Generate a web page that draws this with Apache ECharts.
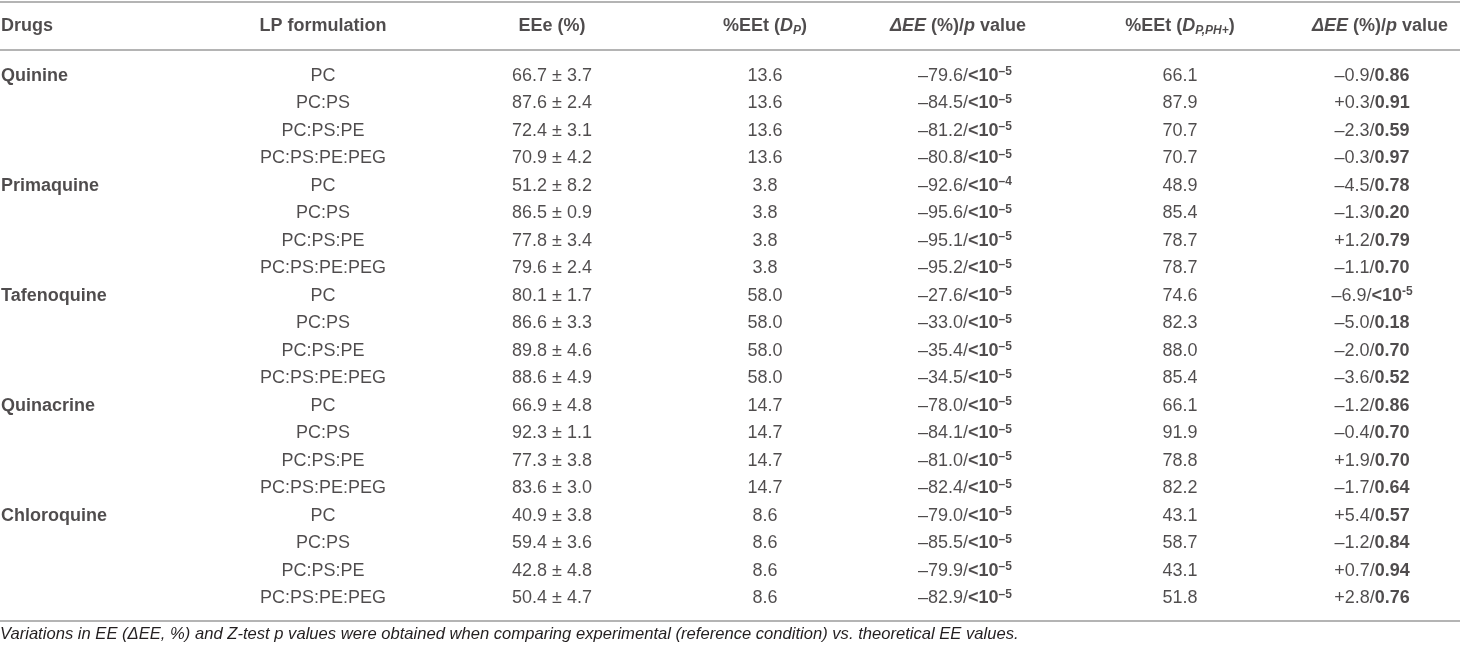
<!DOCTYPE html>
<html>
<head>
<meta charset="utf-8">
<script src="https://cdn.jsdelivr.net/npm/echarts@6/dist/echarts.min.js"></script>
<style>
  html, body { margin: 0; padding: 0; background: #fff; }
  #main { width: 1460px; height: 651px; }
</style>
</head>
<body>
<div id="main"></div>
<script>
// table data
const drugs = ['Quinine', 'Primaquine', 'Tafenoquine', 'Quinacrine', 'Chloroquine'];
const formulations = ['PC', 'PC:PS', 'PC:PS:PE', 'PC:PS:PE:PEG'];
const eeMean = [66.7, 87.6, 72.4, 70.9, 51.2, 86.5, 77.8, 79.6, 80.1, 86.6, 89.8, 88.6, 66.9, 92.3, 77.3, 83.6, 40.9, 59.4, 42.8, 50.4];
const eeSd = [3.7, 2.4, 3.1, 4.2, 8.2, 0.9, 3.4, 2.4, 1.7, 3.3, 4.6, 4.9, 4.8, 1.1, 3.8, 3.0, 3.8, 3.6, 4.8, 4.7];
const eetDp = [13.6, 3.8, 58.0, 14.7, 8.6];
const deltaDp = [-79.6, -84.5, -81.2, -80.8, -92.6, -95.6, -95.1, -95.2, -27.6, -33.0, -35.4, -34.5, -78.0, -84.1, -81.0, -82.4, -79.0, -85.5, -79.9, -82.9];
const pDpExp = [-5, -5, -5, -5, -4, -5, -5, -5, -5, -5, -5, -5, -5, -5, -5, -5, -5, -5, -5, -5];
const eetDpph = [66.1, 87.9, 70.7, 70.7, 48.9, 85.4, 78.7, 78.7, 74.6, 82.3, 88.0, 85.4, 66.1, 91.9, 78.8, 82.2, 43.1, 58.7, 43.1, 51.8];
const deltaDpph = [-0.9, 0.3, -2.3, -0.3, -4.5, -1.3, 1.2, -1.1, -6.9, -5.0, -2.0, -3.6, -1.2, -0.4, 1.9, -1.7, 5.4, -1.2, 0.7, 2.8];
const pDpph = ['0.86', '0.91', '0.59', '0.97', '0.78', '0.20', '0.79', '0.70', '<10-5', '0.18', '0.70', '0.52', '0.86', '0.70', '0.70', '0.64', '0.57', '0.84', '0.94', '0.76'];
const footnote = 'Variations in EE (ΔEE, %) and Z-test p values were obtained when comparing experimental (reference condition) vs. theoretical EE values.';

// layout (x = column centre in px, y = row index)
const colX = [1, 323, 552, 765, 965, 1180, 1372];
const headX = [1, 323, 552, 765, 958, 1180, 1380];
const headRow = -0.818;
const lineRows = [-1.709, 0.055, 20.818];

const FONT = '"Liberation Sans", Arial, Helvetica, sans-serif';
const TXT = '#231f20';

const fmt = v => (v < 0 ? '–' : '+') + Math.abs(v).toFixed(1);

const headers = [
  '{b|Drugs}',
  '{b|LP formulation}',
  '{b|EEe (%)}',
  '{b|%EEt (}{bi|D}{bisub|P}{b|)}',
  '{bi|ΔEE }{b|(%)/}{bi|p}{b| value}',
  '{b|%EEt (}{bi|D}{bisub|P,PH+}{b|)}',
  '{bi|ΔEE }{b|(%)/}{bi|p}{b| value}'
];

const cols = [[], [], [], [], [], [], []];
headers.forEach((h, c) => cols[c].push([headX[c], headRow, h]));

for (let i = 0; i < eeMean.length; i++) {
  const d = Math.floor(i / 4);
  const row = i + 1;
  if (i % 4 === 0) cols[0].push([colX[0], row, '{b|' + drugs[d] + '}']);
  cols[1].push([colX[1], row, '{n|' + formulations[i % 4] + '}']);
  cols[2].push([colX[2], row, '{n|' + eeMean[i].toFixed(1) + ' ± ' + eeSd[i].toFixed(1) + '}']);
  cols[3].push([colX[3], row, '{n|' + eetDp[d].toFixed(1) + '}']);
  cols[4].push([colX[4], row, '{n|' + fmt(deltaDp[i]) + '/}{b|<10}{sup|–' + Math.abs(pDpExp[i]) + '}']);
  cols[5].push([colX[5], row, '{n|' + eetDpph[i].toFixed(1) + '}']);
  let p = pDpph[i];
  let pTxt = p.startsWith('<10') ? '{b|<10}{sup|' + p.slice(3) + '}' : '{b|' + p + '}';
  cols[6].push([colX[6], row, '{n|' + fmt(deltaDpph[i]) + '/}' + pTxt]);
}

const rich = {
  n: { fontFamily: FONT, fontSize: 18, color: TXT, lineHeight: 22 },
  b: { fontFamily: FONT, fontSize: 18, fontWeight: 'bold', color: TXT, lineHeight: 22 },
  bi: { fontFamily: FONT, fontSize: 18, fontWeight: 'bold', fontStyle: 'italic', color: TXT, lineHeight: 22 },
  bisub: { fontFamily: FONT, fontSize: 12, fontWeight: 'bold', fontStyle: 'italic', color: TXT, verticalAlign: 'bottom' },
  sup: { fontFamily: FONT, fontSize: 12, fontWeight: 'bold', color: TXT, verticalAlign: 'top', padding: [1, 0, 0, 0] }
};

const chart = echarts.init(document.getElementById('main'));

const series = cols.map((data, c) => ({
  type: 'scatter',
  symbolSize: 0,
  silent: true,
  clip: false,
  data: data,
  label: {
    show: true,
    position: [0, 0],
    align: c === 0 ? 'left' : 'center',
    verticalAlign: 'middle',
    formatter: p => p.data[2],
    rich: rich
  }
}));

series[0].markLine = {
  silent: true,
  symbol: 'none',
  label: { show: false },
  lineStyle: { color: '#b4b4b4', width: 2, type: 'solid' },
  data: lineRows.map(r => ({ yAxis: r }))
};

chart.setOption({
  animation: false,
  title: {
    text: footnote,
    left: 0,
    top: 626,
    padding: 0,
    textStyle: { fontFamily: FONT, fontSize: 16.6, fontStyle: 'italic', fontWeight: 'normal', color: TXT }
  },
  grid: { left: 0, right: 0, top: 0, bottom: 0 },
  xAxis: { type: 'value', min: 0, max: 1460, show: false },
  yAxis: { type: 'value', min: -1.7636, max: 21.909, inverse: true, show: false },
  series: series
});
</script>
</body>
</html>
